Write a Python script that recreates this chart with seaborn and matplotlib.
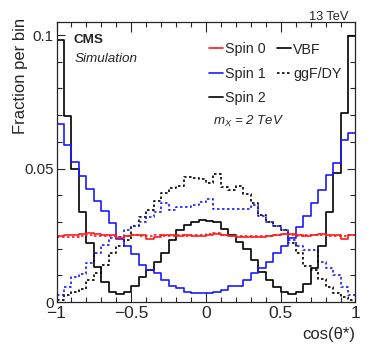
import numpy as np
import pandas as pd
import matplotlib
matplotlib.use("Agg")
import matplotlib.pyplot as plt
from matplotlib.lines import Line2D
import seaborn as sns

# ---- data (40 bins in cos(theta*) from -1 to 1) ----
bin_edges = [round(-1 + 0.05 * i, 4) for i in range(41)]

spin0_vbf = [0.0248, 0.0250, 0.0252, 0.0255, 0.0258, 0.0254, 0.0252, 0.0250, 0.0238, 0.0248,
             0.0252, 0.0250, 0.0235, 0.0245, 0.0250, 0.0250, 0.0248, 0.0250, 0.0246, 0.0248,
             0.0252, 0.0254, 0.0252, 0.0248, 0.0245, 0.0243, 0.0245, 0.0244, 0.0247, 0.0250,
             0.0255, 0.0256, 0.0250, 0.0248, 0.0252, 0.0254, 0.0252, 0.0250, 0.0236, 0.0250]
spin0_ggf = [0.0242, 0.0244, 0.0245, 0.0248, 0.0250, 0.0248, 0.0246, 0.0247, 0.0245, 0.0249,
             0.0250, 0.0248, 0.0247, 0.0250, 0.0249, 0.0248, 0.0250, 0.0248, 0.0250, 0.0252,
             0.0256, 0.0258, 0.0252, 0.0248, 0.0247, 0.0246, 0.0248, 0.0247, 0.0249, 0.0251,
             0.0253, 0.0250, 0.0247, 0.0250, 0.0252, 0.0250, 0.0248, 0.0249, 0.0247, 0.0250]
spin1_vbf = [0.0667, 0.0590, 0.0526, 0.0471, 0.0422, 0.0380, 0.0340, 0.0295, 0.0237, 0.0208,
             0.0180, 0.0140, 0.0120, 0.0107, 0.0083, 0.0061, 0.0054, 0.0039, 0.0035, 0.0033,
             0.0033, 0.0036, 0.0045, 0.0061, 0.0061, 0.0083, 0.0110, 0.0126, 0.0148, 0.0183,
             0.0210, 0.0240, 0.0280, 0.0323, 0.0370, 0.0420, 0.0476, 0.0522, 0.0607, 0.0634]
spin1_dy = [0.0026, 0.0055, 0.0095, 0.0105, 0.0145, 0.0183, 0.0212, 0.0238, 0.0245, 0.0270,
            0.0283, 0.0300, 0.0320, 0.0339, 0.0370, 0.0345, 0.0357, 0.0357, 0.0364, 0.0376,
            0.0385, 0.0350, 0.0350, 0.0350, 0.0350, 0.0350, 0.0364, 0.0323, 0.0300, 0.0285,
            0.0270, 0.0233, 0.0208, 0.0195, 0.0195, 0.0148, 0.0129, 0.0101, 0.0058, 0.0026]
spin2_vbf = [0.0980, 0.0697, 0.0500, 0.0339, 0.0220, 0.0130, 0.0076, 0.0039, 0.0029, 0.0039,
             0.0060, 0.0095, 0.0120, 0.0150, 0.0185, 0.0233, 0.0270, 0.0290, 0.0300, 0.0307,
             0.0303, 0.0300, 0.0274, 0.0250, 0.0226, 0.0197, 0.0157, 0.0114, 0.0083, 0.0058,
             0.0039, 0.0029, 0.0039, 0.0068, 0.0126, 0.0210, 0.0339, 0.0485, 0.0707, 0.0996]
spin2_ggf = [0.0008, 0.0026, 0.0039, 0.0049, 0.0083, 0.0108, 0.0139, 0.0183, 0.0210, 0.0233,
             0.0283, 0.0318, 0.0345, 0.0378, 0.0410, 0.0428, 0.0433, 0.0467, 0.0465, 0.0462,
             0.0445, 0.0480, 0.0430, 0.0420, 0.0433, 0.0405, 0.0370, 0.0326, 0.0301, 0.0283,
             0.0270, 0.0220, 0.0183, 0.0135, 0.0120, 0.0085, 0.0058, 0.0033, 0.0020, 0.0008]

xtick_vals = [-1, -0.5, 0, 0.5, 1]
xtick_labels = ["\u22121", "\u22120.5", "0", "0.5", "1"]
ytick_vals = [0, 0.05, 0.1]
ytick_labels = ["0", "0.05", "0.1"]

# ---- style ----
sns.set_style("ticks")
plt.rcParams["font.family"] = ["Liberation Sans", "DejaVu Sans"]
plt.rcParams["mathtext.fontset"] = "custom"
plt.rcParams["mathtext.rm"] = "Liberation Sans"
plt.rcParams["mathtext.it"] = "Liberation Sans:italic"

W, H = 374, 356
fig = plt.figure(figsize=(W / 100, H / 100), dpi=100)
ax = fig.add_axes([56.5 / W, 1 - 302 / H, (355.5 - 56.5) / W, (302 - 22) / H])

edges_arr = np.array(bin_edges)
centers = 0.5 * (edges_arr[:-1] + edges_arr[1:])
series = [
    (spin2_ggf, "black", (0, (1.5, 1.5))),
    (spin1_dy, "#1a1aff", (0, (1.5, 1.5))),
    (spin2_vbf, "black", "-"),
    (spin1_vbf, "#1a1aff", "-"),
    (spin0_ggf, "#ff1a1a", (0, (1.5, 1.5))),
    (spin0_vbf, "#ff1a1a", "-"),
]
for vals, col, ls in series:
    df = pd.DataFrame({"x": centers, "w": vals})
    sns.histplot(data=df, x="x", weights="w", bins=bin_edges, element="step",
                 fill=False, color=col, linestyle=ls, linewidth=1.2, ax=ax)

ax.set_xlim(-1, 1)
ax.set_ylim(0, 0.1049)
ax.set_xticks(xtick_vals)
ax.set_xticklabels(xtick_labels)
ax.set_yticks(ytick_vals)
ax.set_yticklabels(ytick_labels)
ax.set_xticks(np.arange(-1, 1.001, 0.1), minor=True)
ax.set_yticks(np.arange(0, 0.1049, 0.01), minor=True)
ax.tick_params(which="both", direction="in", top=True, right=True, width=0.8)
ax.tick_params(axis="x", which="major", length=7, pad=3, labelsize=12.5)
ax.tick_params(axis="x", which="minor", length=3.5)
ax.tick_params(axis="y", which="major", length=6, pad=2, labelsize=10.8)
ax.tick_params(axis="y", which="minor", length=3.5)
for s in ax.spines.values():
    s.set_linewidth(0.9)

ax.set_xlabel("cos(\u03b8*)", loc="right", fontsize=12)
ax.set_ylabel("Fraction per bin", loc="top", fontsize=12)
ax.yaxis.set_label_coords(-0.094, 1.014)

fig.text(348 / W, 1 - 20 / H, "13 TeV", ha="right", va="baseline", fontsize=9.2)
fig.text(74 / W, 1 - 43 / H, "CMS", ha="left", va="baseline", fontsize=9.7, fontweight="bold")
fig.text(75 / W, 1 - 61.5 / H, "Simulation", ha="left", va="baseline", fontsize=9.7, style="italic")
fig.text(213 / W, 1 - 121 / H, "$m_X$ = 2 TeV", ha="left", va="center", fontsize=9.5, style="italic")

handles = [
    Line2D([], [], color="#ff1a1a", lw=1.2),
    Line2D([], [], color="#1a1aff", lw=1.2),
    Line2D([], [], color="black", lw=1.2),
    Line2D([], [], color="black", lw=1.2),
    Line2D([], [], color="black", lw=1.2, ls=(0, (1.5, 1.5))),
    Line2D([], [], color="none", lw=0),
]
labels = ["Spin 0", "Spin 1", "Spin 2", "VBF", "ggF/DY", ""]
fig.legend(handles, labels, ncol=2, loc="upper left", bbox_to_anchor=(209 / W, 1 - 42.5 / H),
           bbox_transform=fig.transFigure, frameon=False, fontsize=10.3, borderpad=0,
           borderaxespad=0, handlelength=1.0, handletextpad=0.15, columnspacing=0.73,
           labelspacing=0.72)

fig.savefig("out.png", dpi=100)
